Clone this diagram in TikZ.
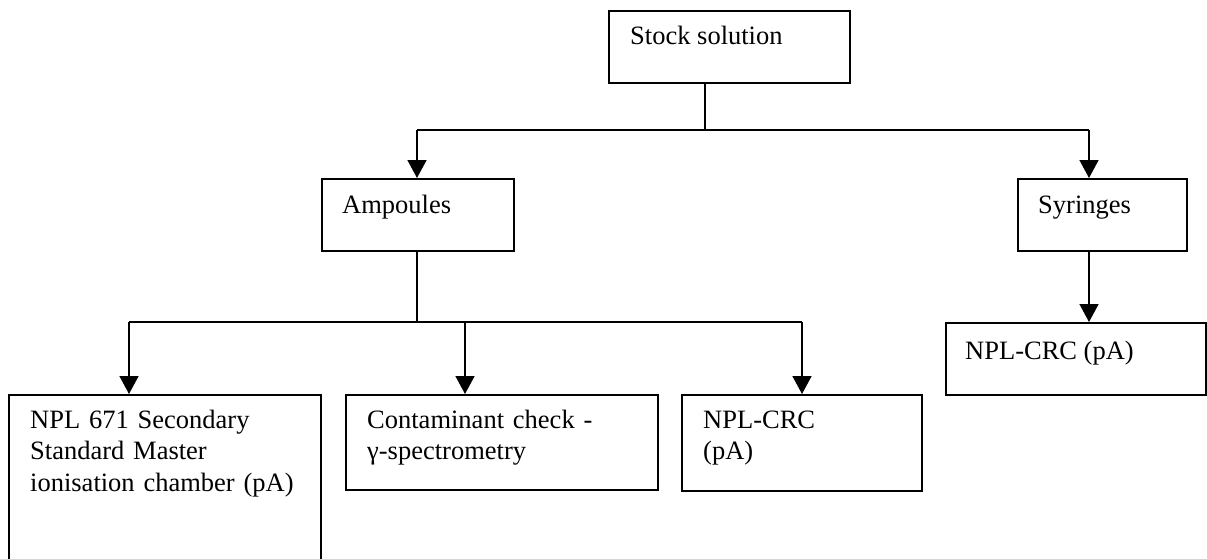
\documentclass[tikz,border=0pt]{standalone}
\usepackage{fontspec}
\setmainfont{Liberation Serif}
\usetikzlibrary{arrows.meta,calc}
\begin{document}
\begin{tikzpicture}[x=1pt,y=-1pt,
  box/.style={draw,line width=1.6pt,inner sep=0pt,anchor=north west},
  lbl/.style={anchor=base west,inner sep=0pt,align=left,font=\fontsize{26.5}{31.5}\selectfont},
  link/.style={line width=1.6pt},
  arr/.style={line width=1.6pt,-{Triangle[length=18pt,width=19pt]}}]
\useasboundingbox (0,0) rectangle (1207,559);
% boxes
\node[box,minimum width=241pt,minimum height=72pt] (stock) at (608,10) {};
\node[box,minimum width=192pt,minimum height=72pt] (amp) at (321,178) {};
\node[box,minimum width=169pt,minimum height=72pt] (syr) at (1017,178) {};
\node[box,minimum width=260pt,minimum height=72pt] (crcs) at (945,322) {};
\node[box,minimum width=312pt,minimum height=200pt] (ion) at (8,394) {};
\node[box,minimum width=312pt,minimum height=95pt] (cont) at (345,394) {};
\node[box,minimum width=240pt,minimum height=96pt] (crca) at (681,394) {};
% labels
\node[lbl] (tstock) at ($(stock.north west)+(22,35)$) {Stock solution};
\node[lbl] (tamp) at ($(amp.north west)+(21,35)$) {Ampoules};
\node[lbl] (tsyr) at ($(syr.north west)+(21,35)$) {Syringes};
\node[lbl] (tcrcs) at ($(crcs.north west)+(20,37)$) {NPL-CRC (pA)};
\node[lbl,text width=290pt] (tion) at ($(ion.north west)+(22,34)$) {NPL 671 Secondary\\Standard Master\\ionisation chamber (pA)};
\node[lbl,text width=290pt] (tcont) at ($(cont.north west)+(22,34)$) {Contaminant check -\\γ-spectrometry};
\node[lbl,text width=200pt] (tcrca) at ($(crca.north west)+(22,34)$) {NPL-CRC\\(pA)};
% junctions
\coordinate (j1) at (705,130);
\coordinate (jl) at (417,130);
\coordinate (jr) at (1089,130);
\coordinate (j2) at (417,322);
\coordinate (ka) at (129,322);
\coordinate (kb) at (465,322);
\coordinate (kc) at (802,322);
% connectors
\draw[link] (stock.south -| j1) -- (j1);
\draw[link] (jl) -- (jr);
\draw[arr] (jl) -- (amp.north -| jl);
\draw[arr] (jr) -- (syr.north -| jr);
\draw[link] (amp.south -| j2) -- (j2);
\draw[link] (ka) -- (kc);
\draw[arr] (ka) -- (ion.north -| ka);
\draw[arr] (kb) -- (cont.north -| kb);
\draw[arr] (kc) -- (crca.north -| kc);
\draw[arr] (syr.south -| jr) -- (crcs.north -| jr);
\end{tikzpicture}
\end{document}
